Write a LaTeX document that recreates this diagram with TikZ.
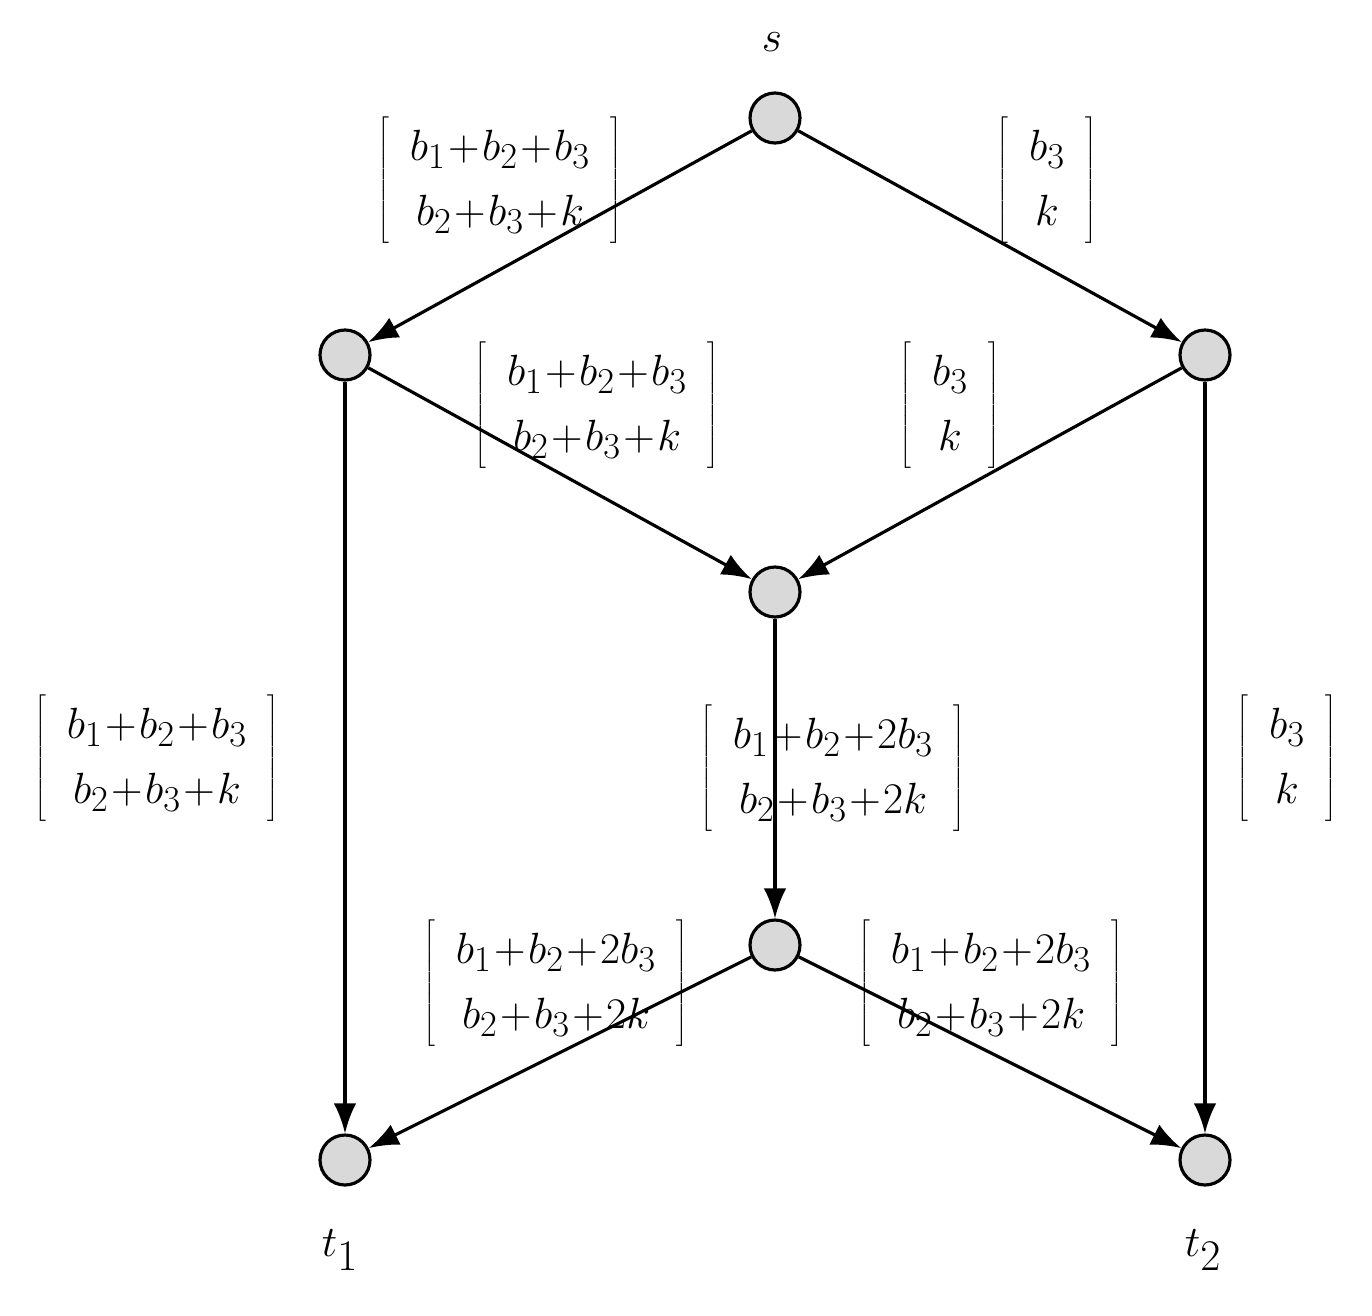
\documentclass[tikz,border=0pt]{standalone}
\usetikzlibrary{arrows.meta}
\begin{document}
\begin{tikzpicture}[x=0.02cm,y=-0.02cm,
  vtx/.style={circle,draw,fill=gray!30,line width=1.8pt,minimum size=1cm,inner sep=0pt},
  edge/.style={line width=1.8pt,-{Latex[length=0.6cm,width=0.45cm]}},
  lab/.style={font=\fontsize{31}{37}\selectfont,inner sep=0pt}]
\useasboundingbox (0,0) rectangle (1372,1315);
\node[vtx] (s) at (775,118) {};
\node[vtx] (l) at (345,355) {};
\node[vtx] (r) at (1205,355) {};
\node[vtx] (m) at (775,592) {};
\node[vtx] (b) at (775,945) {};
\node[vtx] (t1) at (345,1160) {};
\node[vtx] (t2) at (1205,1160) {};
\draw[edge] (s) -- (l);
\draw[edge] (s) -- (r);
\draw[edge] (l) -- (m);
\draw[edge] (r) -- (m);
\draw[edge] (l) -- (t1);
\draw[edge] (r) -- (t2);
\draw[edge] (m) -- (b);
\draw[edge] (b) -- (t1);
\draw[edge] (b) -- (t2);
\node[lab,font=\fontsize{46}{52}\selectfont] (ls) at (772,42) {$s$};
\node[lab,font=\fontsize{54}{60}\selectfont] (lt1) at (340,1250) {$t_1$};
\node[lab,font=\fontsize{54}{60}\selectfont] (lt2) at (1203,1250) {$t_2$};
\node[lab] (a1) at (500,180) {$\left[\;\begin{array}{c}b_1\!+\!b_2\!+\!b_3\\ b_2\!+\!b_3\!+\!k\end{array}\;\right]$};
\node[lab] (a2) at (1047,180) {$\left[\;\begin{array}{c}b_3\\ k\end{array}\;\right]$};
\node[lab] (a3) at (597,405) {$\left[\;\begin{array}{c}b_1\!+\!b_2\!+\!b_3\\ b_2\!+\!b_3\!+\!k\end{array}\;\right]$};
\node[lab] (a4) at (950,405) {$\left[\;\begin{array}{c}b_3\\ k\end{array}\;\right]$};
\node[lab] (a5) at (157,758) {$\left[\;\begin{array}{c}b_1\!+\!b_2\!+\!b_3\\ b_2\!+\!b_3\!+\!k\end{array}\;\right]$};
\node[lab] (a6) at (833,768) {$\left[\;\begin{array}{c}b_1\!+\!b_2\!+\!2b_3\\ b_2\!+\!b_3\!+\!2k\end{array}\;\right]$};
\node[lab] (a7) at (1287,758) {$\left[\;\begin{array}{c}b_3\\ k\end{array}\;\right]$};
\node[lab] (a8) at (556,983) {$\left[\;\begin{array}{c}b_1\!+\!b_2\!+\!2b_3\\ b_2\!+\!b_3\!+\!2k\end{array}\;\right]$};
\node[lab] (a9) at (991,983) {$\left[\;\begin{array}{c}b_1\!+\!b_2\!+\!2b_3\\ b_2\!+\!b_3\!+\!2k\end{array}\;\right]$};
\end{tikzpicture}
\end{document}
